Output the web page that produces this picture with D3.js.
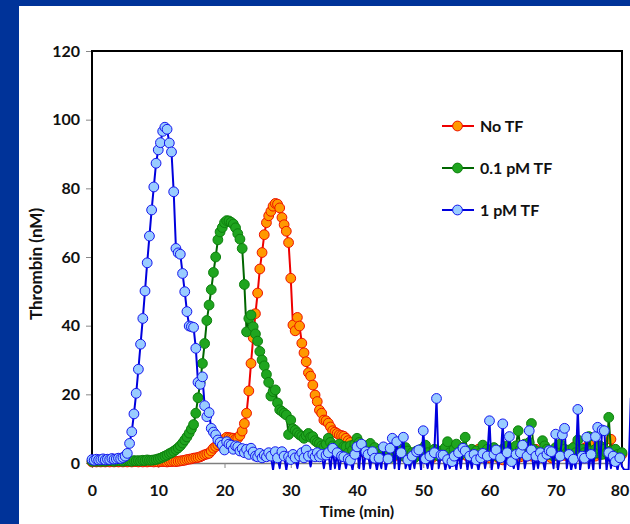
<!DOCTYPE html>
<html>
<head>
<meta charset="utf-8">
<script src="https://cdn.jsdelivr.net/npm/d3@7"></script>
<style>
  body { margin: 0; background: #003399; }
  text { font-family: Lato, "Open Sans", sans-serif; font-weight: bold; fill: #111; }
</style>
</head>
<body>
<div id="chart"></div>
<script>
// sample times in minutes (one reading every 20 s)
var time = [
  0,0.33,0.67,1,1.33,1.67,2,2.33,2.67,3,3.33,3.67,4,4.33,4.67,5,5.33,5.67,6,6.33,6.67,7,7.33,7.67,8,8.33,8.67,9,9.33,9.67,
  10,10.33,10.67,11,11.33,11.67,12,12.33,12.67,13,13.33,13.67,14,14.33,14.67,15,15.33,15.67,16,16.33,16.67,17,17.33,17.67,18,18.33,18.67,19,19.33,19.67,
  20,20.33,20.67,21,21.33,21.67,22,22.33,22.67,23,23.33,23.67,24,24.33,24.67,25,25.33,25.67,26,26.33,26.67,27,27.33,27.67,28,28.33,28.67,29,29.33,29.67,
  30,30.33,30.67,31,31.33,31.67,32,32.33,32.67,33,33.33,33.67,34,34.33,34.67,35,35.33,35.67,36,36.33,36.67,37,37.33,37.67,38,38.33,38.67,39,39.33,39.67,
  40,40.33,40.67,41,41.33,41.67,42,42.33,42.67,43,43.33,43.67,44,44.33,44.67,45,45.33,45.67,46,46.33,46.67,47,47.33,47.67,48,48.33,48.67,49,49.33,49.67,
  50,50.33,50.67,51,51.33,51.67,52,52.33,52.67,53,53.33,53.67,54,54.33,54.67,55,55.33,55.67,56,56.33,56.67,57,57.33,57.67,58,58.33,58.67,59,59.33,59.67,
  60,60.33,60.67,61,61.33,61.67,62,62.33,62.67,63,63.33,63.67,64,64.33,64.67,65,65.33,65.67,66,66.33,66.67,67,67.33,67.67,68,68.33,68.67,69,69.33,69.67,
  70,70.33,70.67,71,71.33,71.67,72,72.33,72.67,73,73.33,73.67,74,74.33,74.67,75,75.33,75.67,76,76.33,76.67,77,77.33,77.67,78,78.33,78.67,79,79.33,79.67,
  80,80.33,80.67,81,81.33
];

// Thrombin (nM), No TF
var noTF = [
  0.3,0.4,0.3, 0.4,0.3,0.4, 0.3,0.4,0.3, 0.4,0.3,0.4, 0.3,0.4,0.3, 0.4,0.3,0.4, 0.3,0.4,0.4, 0.3,0.4,0.3, 0.4,0.3,0.4, 0.4,0.3,0.4,
  0.3,0.4,0.4, 0.4,0.3,0.4, 0.4,0.5,0.4, 0.5,0.6,0.7, 0.8,1.0,1.1, 1.2,1.4,1.5, 1.6,1.8,2.1, 2.4,2.6,2.8, 3.5,4.3,4.8, 5.3,5.7,6.3,
  7.0,7.5,7.4, 7.3,7.2,7.0, 7.2,8.0,9.3, 11.5,14.5,21.0, 29.0,36.5,43.5, 49.5,56.5,61.3, 66.5,70.0,72.0, 73.3,74.8,75.6, 75.4,74.3,71.5, 69.4,67.5,64.2,
  53.8,40.2,38.5, 42.4,39.9,34.9, 32.1,29.5,26.3, 25.3,22.7,19.8, 17.9,15.4,14.5, 12.5,12.3,11.6, 10.5,9.4,9.0, 8.6,8.2,8.0, 7.8,7.2,6.5, 6.0,5.2,4.6,
  4.0,3.6,3.8, 3.2,2.8,3.5, 2.5,3.0,2.2, 2.8,2.0,2.5, 3.0,2.2,1.8, 2.5,3.2,2.0, 4.0,2.5,3.0, 2.0,3.5,2.5, 1.8,2.8,2.0, 3.0,2.2,2.5,
  1.8,2.5,3.0, 2.0,1.5,2.5, 3.5,2.0,3.0, 2.5,4.0,2.0, 3.0,1.8,2.5, 2.0,3.5,4.5, 2.5,3.0,2.0, 3.3,2.5,2.0, 3.0,4.0,2.5, 2.0,3.0,2.2,
  1.5,2.5,3.0, 2.0,1.5,2.5, 0.9,2.0,3.0, 2.5,4.0,2.0, 3.0,2.5,1.8, 2.5,3.5,2.0, 3.0,2.0,2.5, 4.0,2.5,1.8, 2.2,3.0,2.5, 2.0,1.5,3.0,
  2.5,2.0,4.5, 3.0,2.2,2.5, 2.0,3.5,2.5, 5.0,3.0,2.0, 2.5,4.3,3.0, 5.5,2.5,3.0, 2.0,3.5,2.5, 4.5,3.6,2.5, 2.0,6.9,3.0, 2.5,1.5,2.0,
  2.5
];

// Thrombin (nM), 0.1 pM TF
var tf01 = [
  0.5,0.6,0.5, 0.6,0.5,0.6, 0.5,0.6,0.7, 0.6,0.5,0.6, 0.7,0.6,0.5, 0.6,0.7,0.6, 0.5,0.7,0.6, 0.7,0.6,0.8, 0.7,0.9,0.8, 0.8,0.9,1.0,
  1.2,1.4,1.7, 2.0,2.3,2.7, 3.0,3.4,3.9, 4.4,5.0,5.8, 6.7,7.6,8.7, 9.9,11.2,14.5, 19.0,23.5,29.0, 34.8,41.5,46.0, 50.5,55.5,60.0, 65.0,67.3,68.6,
  70.0,70.6,70.5, 70.1,69.6,68.5, 66.8,65.2,62.5, 52.0,38.2,42.1, 43.1,39.7,37.6, 35.5,32.5,30.0, 28.3,25.8,23.5, 19.5,20.8,21.3, 17.5,15.5,15.0, 14.5,14.0,8.3,
  12.5,10.0,9.5, 8.8,8.2,7.8, 7.2,8.0,8.6, 7.5,7.7,6.5, 6.0,5.7,5.0, 4.7,5.5,7.2, 6.0,5.0,4.5, 4.3,5.5,3.5, 4.8,4.7,3.0, 5.0,3.8,5.5,
  7.2,6.0,4.0, 3.5,5.0,4.0, 5.7,3.0,4.5, 2.5,3.5,2.0, 4.0,2.5,3.0, 1.5,3.5,5.0, 2.5,4.0,3.0, 2.0,4.5,3.5, 2.0,3.0,1.5, 3.5,2.5,4.0,
  2.0,5.2,3.0, 1.5,2.5,4.0, 3.0,2.0,3.5, 2.5,4.5,6.2, 3.0,2.0,4.0, 5.5,3.0,2.5, 4.5,7.5,3.0, 2.0,4.0,2.5, 3.5,1.5,3.0, 5.2,2.5,4.0,
  3.0,2.0,4.5, 3.5,1.8,3.0, 4.0,2.5,5.0, 3.0,2.0,3.5, 5.0,9.4,4.0, 3.0,5.5,2.5, 6.0,11.5,4.0, 3.5,2.5,3.0, 6.5,5.0,4.0, 2.5,3.5,2.0,
  4.5,3.0,5.5, 2.5,4.0,3.0, 3.8,2.0,4.5, 3.0,6.7,2.5, 4.0,3.0,2.0, 7.7,3.5,2.5, 4.0,3.0,5.0, 2.5,4.0,3.0, 13.3,3.5,2.0, 4.0,2.5,1.5,
  3.0
];

// Thrombin (nM), 1 pM TF
var tf1 = [
  1.0,0.8,1.1, 0.9,1.0,1.2, 0.9,1.1,1.0, 1.3,1.1,1.2, 1.4,1.3,1.6, 2.0,2.8,5.7, 9.1,14.3,20.3, 27.3,34.6,42.1, 50.1,58.3,66.1, 73.7,80.4,87.3,
  91.2,93.3,96.6, 97.8,97.2,93.2, 90.6,79.0,62.5, 61.2,60.8,55.2, 49.9,44.1,39.9, 39.7,39.5,33.4, 23.5,22.9,25.1, 16.7,13.5,14.7, 10.1,9.0,8.2, 6.7,6.0,5.2,
  3.8,6.2,5.5, 5.2,4.0,5.0, 4.7,3.5,4.2, 3.0,4.0,2.5, 4.3,3.2,2.0, 1.8,2.8,1.5, 2.3,1.8,3.0, 2.0,-2.0,3.3, 1.5,-1.5,3.3, 2.0,-2.0,1.8,
  1.0,2.5,1.5, -1.5,2.0,3.0, 1.5,3.8,2.0, -1.0,2.5,1.8, 3.0,1.8,2.5, -1.5,2.3,3.0, -2.0,4.3,-1.5, 3.0,-2.0,2.0, 1.8,-1.5,1.2, 0.8,-2.0,2.5,
  4.7,-1.5,5.5, -2.0,3.3,2.5, -1.5,3.3,1.4, -2.0,1.4,-1.5, 4.7,-2.0,1.2, 4.3,7.2,-1.5, 6.2,-2.0,3.0, 7.5,-1.5,0.9, -2.0,2.0,-1.5, 3.3,3.8,-2.0,
  9.4,1.2,-1.5, 2.0,-2.0,3.0, 18.8,-1.5,2.3, 2.3,-2.0,1.0, -1.5,0.4,2.0, -2.0,3.0,-1.5, 4.3,3.5,-2.0, 2.0,-1.5,2.5, 0.9,-2.0,1.5, 2.8,-1.5,2.0,
  12.3,-2.0,2.5, 3.8,-1.5,1.5, 11.4,-2.0,3.0, 7.7,0.4,-1.5, 2.5,-2.0,3.0, 5.2,-1.5,2.0, 9.4,3.8,-2.0, 2.0,-1.5,3.0, 1.5,-2.0,2.5, 3.6,3.3,-1.5,
  8.4,-2.0,2.0, 8.2,10.1,-1.5, 2.5,-2.0,1.1, -1.5,15.6,-2.0, 2.0,1.4,7.5, -1.5,2.5,-2.0, 7.7,10.4,-1.5, 9.6,9.4,-2.0, 3.0,-1.5,2.0, 0.4,-2.0,1.5,
  -1.0,-2.0,-2.0,-2.0,19.0
];

var seriesNames = ["No TF", "0.1 pM TF", "1 pM TF"];
var xTicks = [0, 10, 20, 30, 40, 50, 60, 70, 80];
var yTicks = [0, 20, 40, 60, 80, 100, 120];

var styles = [
  {line: "#ee0000", fill: "#ff9900", stroke: "#ee1100"},
  {line: "#006600", fill: "#1fa51f", stroke: "#0e800e"},
  {line: "#0000dd", fill: "#99ccff", stroke: "#1515ee"}
];

var width = 630, height = 524;
var plot = {left: 92, right: 622, top: 51, bottom: 463};

var svg = d3.select("#chart")
  .append("svg")
  .attr("width", width)
  .attr("height", height);

// slide background + white panel
svg.append("rect").attr("width", width).attr("height", height).attr("fill", "#003399");
svg.append("rect").attr("x", 19).attr("y", 6).attr("width", width - 19).attr("height", height - 6).attr("fill", "#fff");

var x = d3.scaleLinear().domain([0, 80]).range([plot.left, plot.right]);
var y = d3.scaleLinear().domain([0, 120]).range([plot.bottom, plot.top]);

// clip: lines may dip a few px under the axis like in Excel
svg.append("clipPath").attr("id", "clipLines")
  .append("rect")
  .attr("x", plot.left).attr("y", plot.top)
  .attr("width", width - plot.left).attr("height", plot.bottom - plot.top + 7);

// Y axis
var yAxis = svg.append("g")
  .attr("transform", "translate(" + plot.left + ",0)")
  .call(d3.axisLeft(y).tickValues(yTicks).tickSize(6).tickSizeOuter(0).tickPadding(6));
yAxis.selectAll(".tick line").attr("stroke", "#888");
yAxis.select(".domain").remove();
yAxis.selectAll("text").style("font-size", "16px").attr("fill", "#111");

// X axis
var xAxis = svg.append("g")
  .attr("transform", "translate(0," + plot.bottom + ")")
  .call(d3.axisBottom(x).tickValues(xTicks).tickSize(5).tickSizeOuter(0).tickPadding(17));
xAxis.selectAll(".tick line").attr("stroke", "#888");
xAxis.select(".domain").attr("stroke", "#7f7f7f").attr("stroke-width", 1.5);
xAxis.selectAll("text").style("font-size", "16px").attr("fill", "#111");
// last label sits on the slide edge, nudge it in
xAxis.selectAll(".tick text").filter(function(d) { return d === 80; }).attr("dx", -2.5);

// frame: left axis, top and right border
svg.append("path")
  .attr("d", "M" + plot.left + "," + plot.bottom + "V" + plot.top + "H" + plot.right + "V" + plot.bottom)
  .attr("fill", "none")
  .attr("stroke", "#000")
  .attr("stroke-width", 2);

// axis titles
svg.append("text")
  .attr("x", 357).attr("y", 517)
  .attr("text-anchor", "middle")
  .style("font-size", "16px")
  .text("Time (min)");
svg.append("text")
  .attr("transform", "translate(42,264) rotate(-90)")
  .attr("text-anchor", "middle")
  .style("font-size", "17px")
  .text("Thrombin (nM)");

// series, drawn in Excel order (No TF first, 1 pM on top)
var allSeries = [noTF, tf01, tf1];
var line = d3.line()
  .x(function(d) { return x(d.t); })
  .y(function(d) { return y(d.v); });

allSeries.forEach(function(vals, i) {
  var pts = vals.map(function(v, j) { return {t: time[j], v: v}; });
  var g = svg.append("g");
  g.append("path")
    .datum(pts)
    .attr("clip-path", "url(#clipLines)")
    .attr("fill", "none")
    .attr("stroke", styles[i].line)
    .attr("stroke-width", 2)
    .attr("stroke-linejoin", "round")
    .attr("d", line);
  // markers only where the point is inside the axis range
  g.selectAll("circle")
    .data(pts.filter(function(d) { return d.v >= 0 && d.t <= 80; }))
    .enter().append("circle")
    .attr("cx", function(d) { return x(d.t); })
    .attr("cy", function(d) { return y(d.v); })
    .attr("r", 4.9)
    .attr("fill", styles[i].fill)
    .attr("stroke", styles[i].stroke)
    .attr("stroke-width", 1);
});

// legend
var legend = svg.append("g");
seriesNames.forEach(function(name, i) {
  var ly = 126 + i * 42;
  legend.append("line")
    .attr("x1", 442).attr("x2", 474).attr("y1", ly).attr("y2", ly)
    .attr("stroke", styles[i].line).attr("stroke-width", 2);
  legend.append("circle")
    .attr("cx", 457.5).attr("cy", ly).attr("r", 4.9)
    .attr("fill", styles[i].fill).attr("stroke", styles[i].stroke).attr("stroke-width", 1);
  legend.append("text")
    .attr("x", 480).attr("y", ly).attr("dy", "0.36em")
    .style("font-size", "16px")
    .text(name);
});
</script>
</body>
</html>
